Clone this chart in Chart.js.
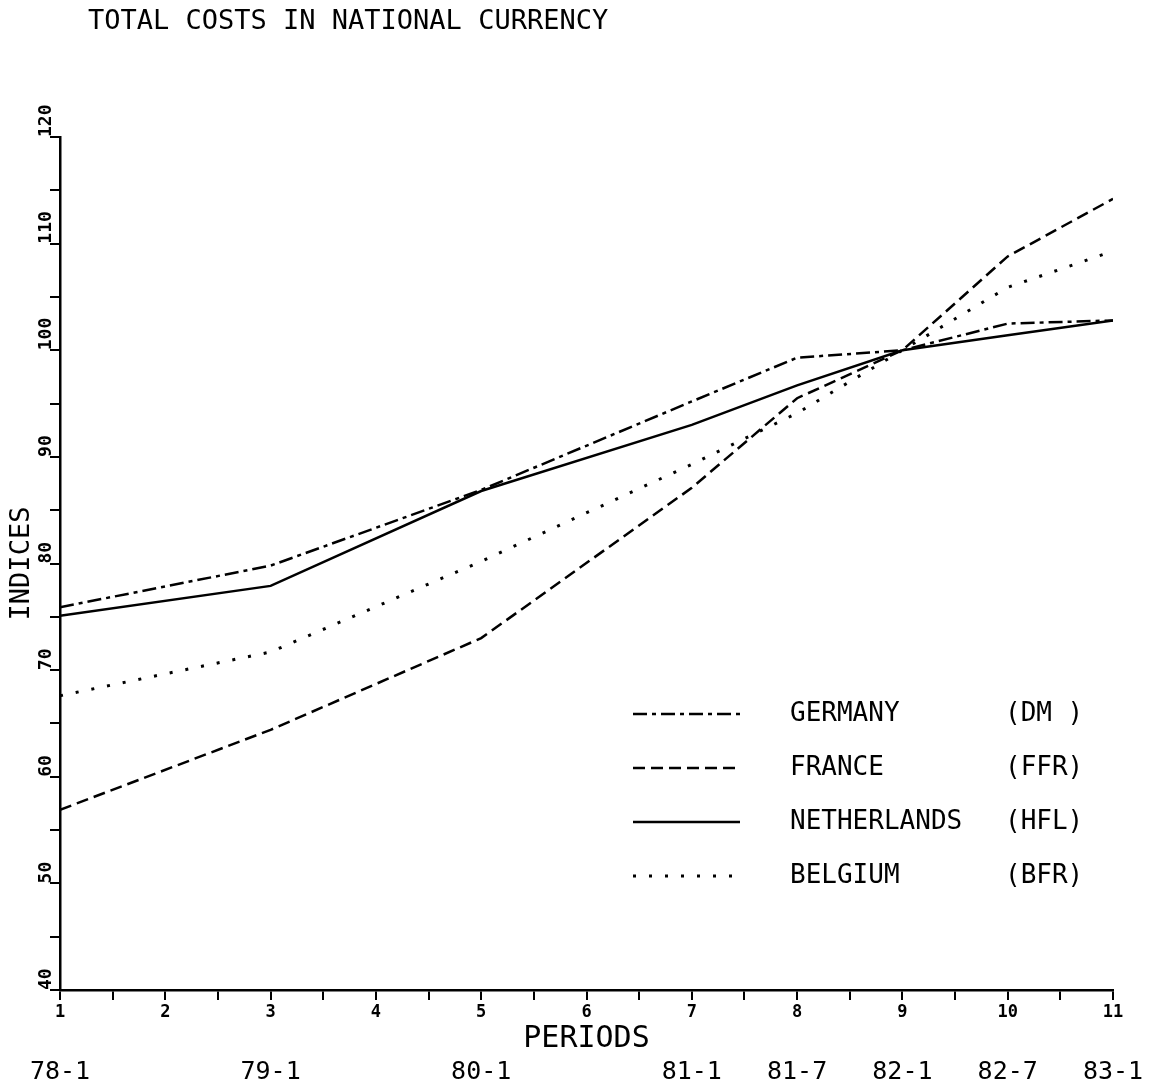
<!DOCTYPE html>
<html>
<head>
<meta charset="utf-8">
<title>Total costs in national currency</title>
<script src="https://cdn.jsdelivr.net/npm/chart.js@4.4.1/dist/chart.umd.min.js"></script>
<style>
  html, body { margin: 0; padding: 0; background: #fff; }
</style>
</head>
<body>
<canvas id="costsChart" width="1149" height="1089"></canvas>
<script>
// values (index, 82-1 = 100)
const periods = [1, 3, 5, 7, 8, 9, 10, 11];
const periodDates = ["78-1", "79-1", "80-1", "81-1", "81-7", "82-1", "82-7", "83-1"];
const germany = [75.9, 79.8, 86.9, 95.2, 99.3, 100, 102.5, 102.8];
const france = [56.9, 64.4, 73.0, 87.1, 95.5, 100, 108.8, 114.2];
const netherlands = [75.1, 77.9, 86.8, 93.0, 96.7, 100, 101.4, 102.8];
const belgium = [67.6, 71.7, 80.2, 89.3, 94.1, 100, 105.9, 109.3];
const countries = ["GERMANY", "FRANCE", "NETHERLANDS", "BELGIUM"];
const currencies = ["(DM )", "(FFR)", "(HFL)", "(BFR)"];
const chartTitle = "TOTAL COSTS IN NATIONAL CURRENCY";

const MONO = '"DejaVu Sans Mono", "Liberation Mono", monospace';
const dashes = [[14, 5, 4, 5], [12, 6], [], [3, 13]];

function toPoints(values) {
    return periods.map((p, i) => ({ x: p, y: values[i] }));
}

const seriesList = [germany, france, netherlands, belgium];

// title + legend drawn on the canvas, plotter style
const plotterText = {
    id: "plotterText",
    afterDraw(chart) {
        const ctx = chart.ctx;
        ctx.save();
        ctx.fillStyle = "#000";
        ctx.textBaseline = "middle";
        ctx.font = "27px " + MONO;
        ctx.fillText(chartTitle, 88, 22);

        ctx.font = "26px " + MONO;
        chart.data.datasets.forEach((ds, i) => {
            const y = 714 + i * 54;
            ctx.beginPath();
            ctx.setLineDash(ds.borderDash);
            ctx.lineWidth = ds.borderWidth;
            ctx.strokeStyle = "#000";
            ctx.moveTo(633, y);
            ctx.lineTo(740, y);
            ctx.stroke();
            ctx.setLineDash([]);
            ctx.fillText(ds.label, 790, y);
            ctx.fillText(currencies[i], 1005, y);
        });
        ctx.restore();
    },
};

const costsConfig = {
    type: "line",
    data: {
        datasets: countries.map((name, i) => ({
            label: name,
            data: toPoints(seriesList[i]),
            borderColor: "#000",
            borderWidth: i === 3 ? 3 : 2.5,
            borderDash: dashes[i],
            pointRadius: 0,
            fill: false,
            tension: 0,
        })),
    },
    options: {
        responsive: false,
        animation: false,
        layout: {
            padding: { top: 137, right: 36, bottom: 0, left: 0 },
        },
        plugins: {
            legend: { display: false },
            tooltip: { enabled: false },
        },
        scales: {
            x: {
                type: "linear",
                position: "bottom",
                min: 1,
                max: 11,
                ticks: {
                    stepSize: 0.5,
                    autoSkip: false,
                    maxRotation: 0,
                    padding: 2,
                    color: "#000",
                    font: { family: MONO, size: 17, weight: "bold" },
                    callback: (v) => (Number.isInteger(v) ? v : ""),
                },
                grid: {
                    drawOnChartArea: false,
                    tickLength: 10,
                    color: "#000",
                    lineWidth: 2,
                },
                border: { display: true, color: "#000", width: 2.5 },
                title: {
                    display: true,
                    text: "PERIODS",
                    color: "#000",
                    font: { family: MONO, size: 30 },
                    padding: 0,
                },
                afterFit: (scale) => { scale.height = 67; },
            },
            dates: {
                type: "linear",
                position: "bottom",
                weight: 1,
                min: 1,
                max: 11,
                afterBuildTicks: (scale) => {
                    scale.ticks = periods.map((v) => ({ value: v }));
                },
                ticks: {
                    autoSkip: false,
                    maxRotation: 0,
                    padding: 0,
                    color: "#000",
                    font: { family: MONO, size: 25 },
                    callback: (v, i) => periodDates[i],
                },
                grid: { display: false, drawTicks: false },
                border: { display: false },
                afterFit: (scale) => { scale.height = 32; },
            },
            y: {
                type: "linear",
                position: "left",
                min: 40,
                max: 120,
                ticks: {
                    stepSize: 5,
                    autoSkip: false,
                    mirror: true,
                    padding: -5,
                    align: "end",
                    minRotation: 90,
                    maxRotation: 90,
                    color: "#000",
                    font: { family: MONO, size: 18, weight: "bold" },
                    callback: (v) => (v % 10 === 0 ? v : ""),
                },
                grid: {
                    drawOnChartArea: false,
                    tickLength: 10,
                    color: "#000",
                    lineWidth: 2,
                },
                border: { display: true, color: "#000", width: 2.5 },
                title: {
                    display: true,
                    text: "INDICES",
                    color: "#000",
                    font: { family: MONO, size: 27 },
                    padding: { top: 6, bottom: 0 },
                },
                afterFit: (scale) => { scale.width = 60; },
            },
        },
    },
    plugins: [plotterText],
};

const costsCtx = document.getElementById("costsChart");
window.costsChart = new Chart(costsCtx, costsConfig);
</script>
</body>
</html>
